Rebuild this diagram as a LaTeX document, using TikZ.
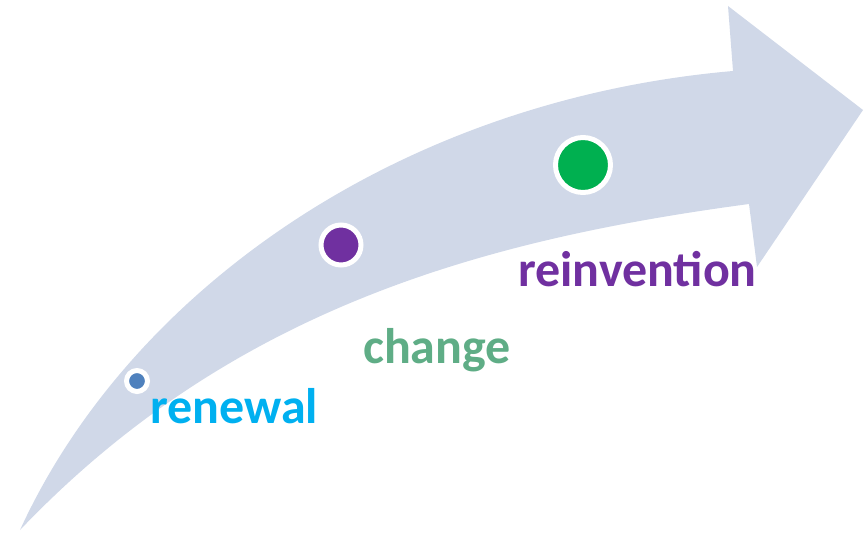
\documentclass[tikz,border=0pt]{standalone}
\usepackage{fontspec}
\setmainfont{Carlito}
\usepackage{xcolor}
\usepackage{tikz}
\usetikzlibrary{positioning}
\definecolor{bandgray}{RGB}{208,216,232}
\definecolor{dotblue}{RGB}{79,129,189}
\definecolor{dotpurple}{RGB}{112,48,160}
\definecolor{dotgreen}{RGB}{0,176,80}
\definecolor{txtcyan}{RGB}{0,176,240}
\definecolor{txtgreen}{RGB}{95,173,134}
\tikzstyle{stage-dot}=[circle, draw=white, line width=5pt, inner sep=0pt]
\tikzstyle{stage-label}=[anchor=base west, inner sep=0pt, font=\fontsize{50}{60}\selectfont\bfseries]

\begin{document}
\begin{tikzpicture}[x=1pt, y=-1pt]
	\useasboundingbox (0,0) rectangle (864,535);

	% curved arrow
	\fill[bandgray] (20,530) .. controls (130,290) and (400,100) .. (733,71)
		-- (728,6) -- (863,110) -- (757,267) -- (749,204)
		.. controls (480,240) and (230,310) .. (20,530) -- cycle;

	\node[stage-dot, fill=dotblue, minimum size=21pt] (renewal-dot) at (137,381) {};
	\node[stage-dot, fill=dotpurple, minimum size=40pt] (change-dot) at (341,245) {};
	\node[stage-dot, fill=dotgreen, minimum size=55pt] (reinvention-dot) at (583,165) {};

	\node[stage-label, text=txtcyan] (renewal) at (150,423) {renewal};
	\node[stage-label, text=txtgreen] (change) at (363,363) {change};
	\node[stage-label, text=dotpurple] (reinvention) at (518,286) {reinvention};
\end{tikzpicture}
\end{document}
